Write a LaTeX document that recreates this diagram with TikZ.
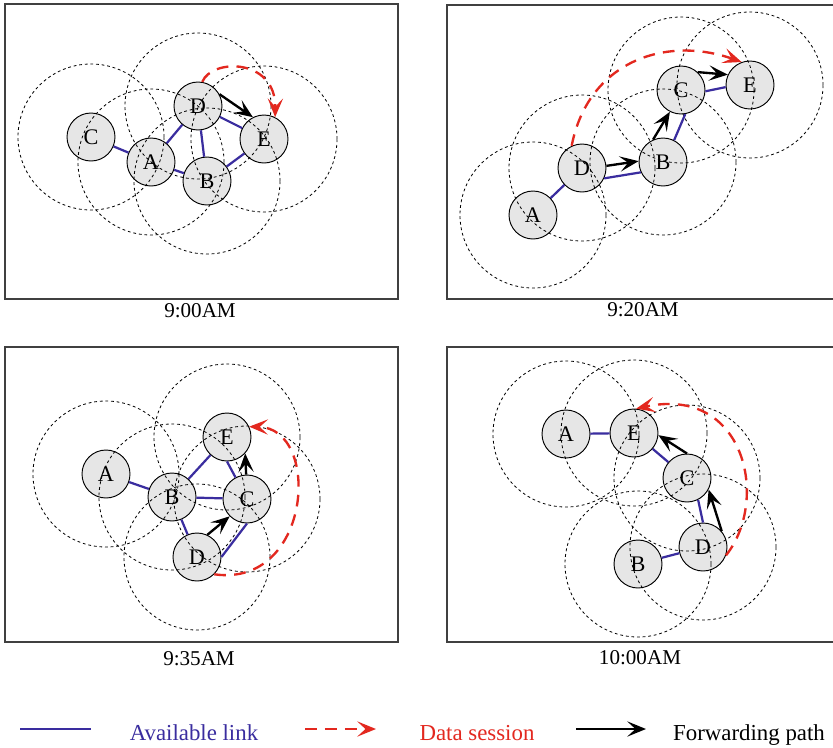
\documentclass[tikz,border=0pt]{standalone}
\usepackage{fontspec}
\setmainfont{Liberation Serif}
\usetikzlibrary{arrows.meta}
\definecolor{LinkBlue}{HTML}{3A2D9F}
\definecolor{SessionRed}{HTML}{E3281F}
\definecolor{HostGray}{HTML}{E6E6E6}
\definecolor{FrameGray}{HTML}{404040}

\begin{document}
\begin{tikzpicture}[
    x=0.03cm, y=-0.03cm,
    host/.style={circle,draw,line width=0.8pt,fill=HostGray,minimum size=1.44cm,inner sep=0pt,font=\fontsize{19}{21}\selectfont},
    reach/.style={dash pattern=on 2.4pt off 2.4pt,line width=0.7pt},
    panel/.style={draw=FrameGray,line width=1pt},
    stamp/.style={font=\fontsize{18}{20}\selectfont},
    link/.style={LinkBlue,line width=1.9pt},
    session/.style={-{Stealth[length=16pt,width=13pt,inset=7pt]},SessionRed,line width=2pt,dash pattern=on 10pt off 7pt},
    fwd/.style={-{Stealth[length=16pt,width=13pt,inset=7pt]},line width=2pt},
    keytext/.style={font=\fontsize{19.5}{21}\selectfont,anchor=base,inner sep=0pt}
  ]
    \path[use as bounding box,clip] (0,0) rectangle (833,747);
    \fill[white] (0,0) rectangle (833,747);

    % 9:00AM
    \draw[panel] (5,4) rectangle (398,299);
    \node[stamp] (t1) at (200,311) {9:00AM};
    \node[host] (C1) at (91,137) {C};
    \node[host] (A1) at (151,162) {A};
    \node[host] (D1) at (198,106) {D};
    \node[host] (E1) at (264,139) {E};
    \node[host] (B1) at (207,181) {B};
    \foreach \n in {A1,B1,C1,D1,E1} \draw[reach] (\n) circle[radius=2.19cm];
    \draw[link] (C1)--(A1); \draw[link] (A1)--(D1); \draw[link] (A1)--(B1);
    \draw[link] (D1)--(B1); \draw[link] (D1)--(E1); \draw[link] (B1)--(E1);
    \draw[fwd] (D1.29)--(E1.117);
    \draw[session] (D1.80) .. controls (212,58) and (276,58) .. (E1.63);

    % 9:20AM
    \draw[panel] (447,5) rectangle (840,299);
    \node[stamp] (t2) at (643,310) {9:20AM};
    \node[host] (A2) at (533,215) {A};
    \node[host] (D2) at (582,168) {D};
    \node[host] (B2) at (663,162) {B};
    \node[host] (C2) at (681,90) {C};
    \node[host] (E2) at (750,85) {E};
    \foreach \n in {A2,B2,C2,D2,E2} \draw[reach] (\n) circle[radius=2.19cm];
    \draw[link] (A2)--(D2); \draw[link] (D2.-25)--(B2.205);
    \draw[link] (B2.63)--(C2.-80); \draw[link] (C2.-3)--(E2.185);
    \draw[fwd] (D2.5)--(B2.178);
    \draw[fwd] (B2.114)--(C2.243);
    \draw[fwd] (C2.47)--(E2.155);
    \draw[session] (D2.115) .. controls (588,62) and (665,35) .. (E2.110);

    % 9:35AM
    \draw[panel] (5,347) rectangle (398,642);
    \node[stamp] (t3) at (199,659) {9:35AM};
    \node[host] (A3) at (106,474) {A};
    \node[host] (B3) at (172,497) {B};
    \node[host] (E3) at (227,437) {E};
    \node[host] (C3) at (247,499) {C};
    \node[host] (D3) at (197,557) {D};
    \foreach \n in {A3,B3,C3,D3,E3} \draw[reach] (\n) circle[radius=2.19cm];
    \draw[link] (A3)--(B3); \draw[link] (B3)--(E3); \draw[link] (B3)--(C3);
    \draw[link] (B3)--(D3); \draw[link] (E3.-90)--(C3.118); \draw[link] (C3.-90)--(D3.0);
    \draw[fwd] (D3.65)--(C3.225);
    \draw[fwd] (C3.92)--(E3.-42);
    \draw[session] (D3.-45) .. controls (312,588) and (322,428) .. (E3.25);

    % 10:00AM
    \draw[panel] (447,347) rectangle (840,642);
    \node[stamp] (t4) at (640,658) {10:00AM};
    \node[host] (A4) at (566,434) {A};
    \node[host] (E4) at (634,433) {E};
    \node[host] (C4) at (687,478) {C};
    \node[host] (D4) at (703,547) {D};
    \node[host] (B4) at (638,564) {B};
    \foreach \n in {A4,B4,C4,D4,E4} \draw[reach] (\n) circle[radius=2.19cm];
    \draw[link] (A4)--(E4); \draw[link] (E4)--(C4);
    \draw[link] (C4.-63)--(D4.90); \draw[link] (D4)--(B4);
    \draw[fwd] (D4.40)--(C4.-28);
    \draw[fwd] (C4.90)--(E4.-5);
    \draw[session] (D4.-20) .. controls (770,500) and (745,385) .. (E4.85);

    % key
    \coordinate (k1a) at (20,729); \coordinate (k1b) at (91,729);
    \coordinate (k2a) at (305,729); \coordinate (k2b) at (376,729);
    \coordinate (k3a) at (576,729); \coordinate (k3b) at (646,729);
    \draw[link] (k1a)--(k1b);
    \node[keytext,text=LinkBlue] (k1) at (194,740) {Available link};
    \draw[session] (k2a)--(k2b);
    \node[keytext,text=SessionRed] (k2) at (477,740) {Data session};
    \draw[fwd] (k3a)--(k3b);
    \node[keytext,anchor=base west] (k3) at (673,740) {Forwarding path};
  \end{tikzpicture}
\end{document}
